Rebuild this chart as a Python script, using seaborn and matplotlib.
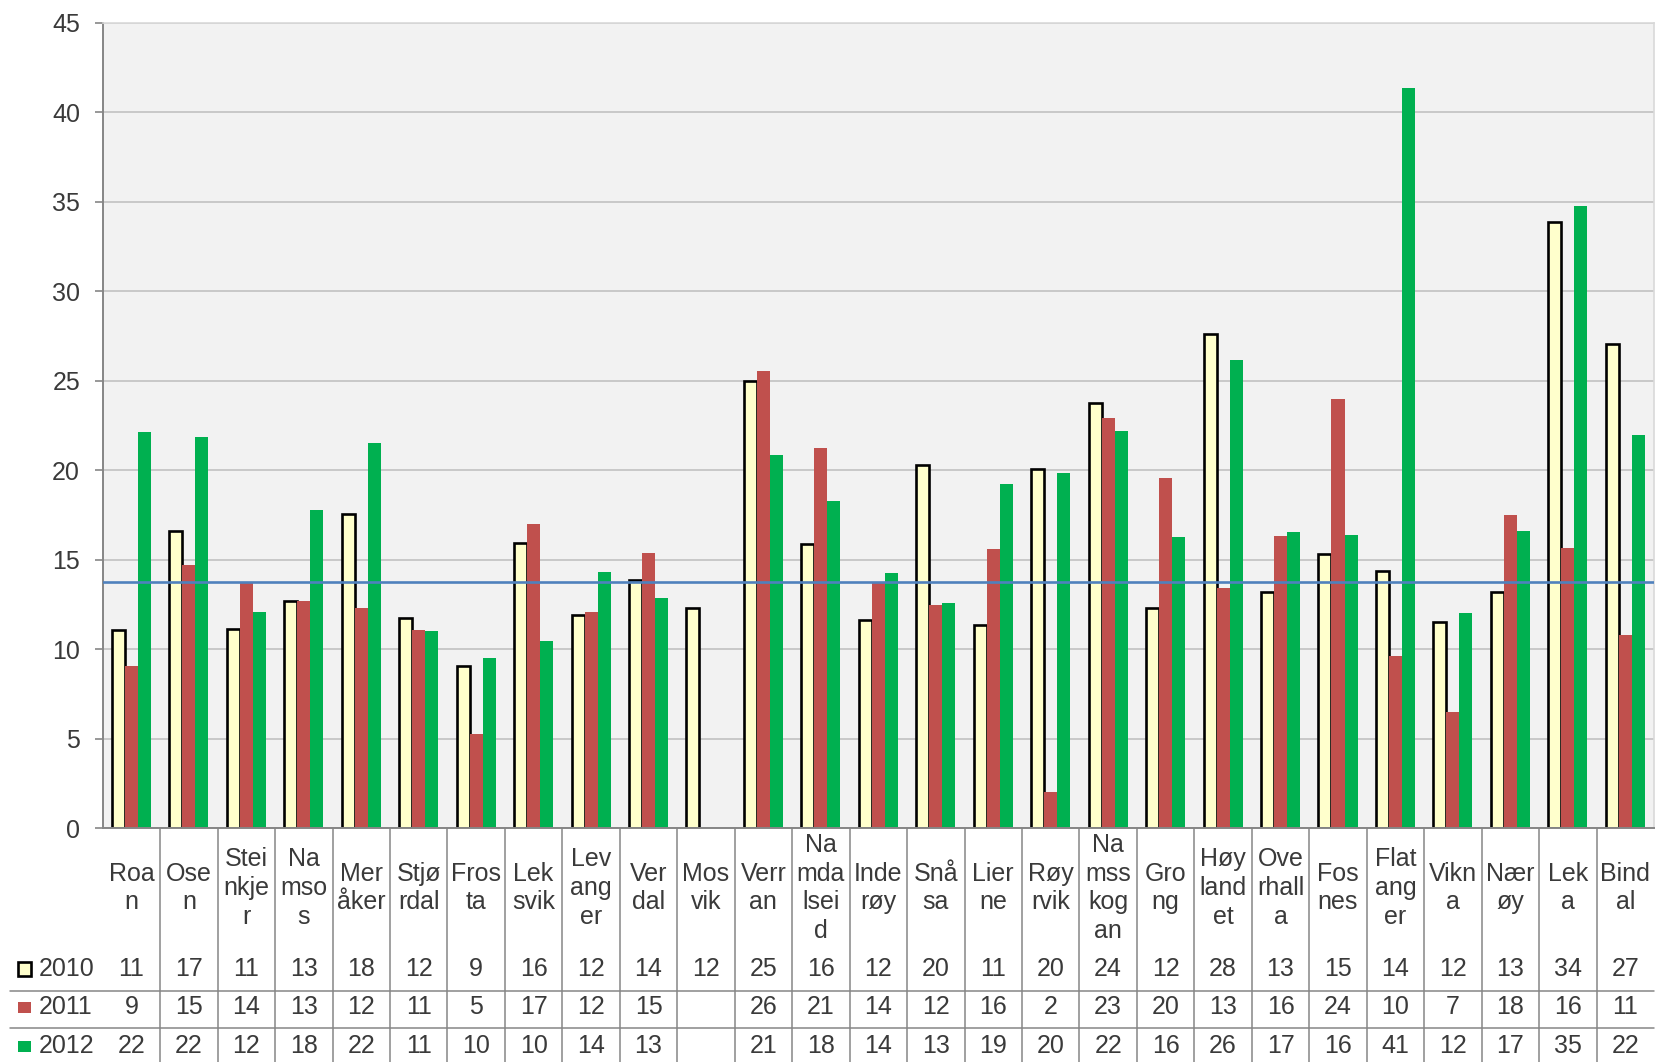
import matplotlib
matplotlib.use("Agg")
import matplotlib.pyplot as plt
import matplotlib.transforms as mtransforms
from matplotlib.lines import Line2D
from matplotlib.patches import Rectangle
import numpy as np
import pandas as pd
import seaborn as sns

kommuner = ["Roan", "Osen", "Steinkjer", "Namsos", "Meråker", "Stjørdal", "Frosta",
            "Leksvik", "Levanger", "Verdal", "Mosvik", "Verran", "Namdalseid", "Inderøy",
            "Snåsa", "Lierne", "Røyrvik", "Namsskogan", "Grong", "Høylandet", "Overhalla",
            "Fosnes", "Flatanger", "Vikna", "Nærøy", "Leka", "Bindal"]
# category labels as they are wrapped in the data table
etiketter = ["Roa\nn", "Ose\nn", "Stei\nnkje\nr", "Na\nmso\ns", "Mer\nåker", "Stjø\nrdal",
             "Fros\nta", "Lek\nsvik", "Lev\nang\ner", "Ver\ndal", "Mos\nvik", "Verr\nan",
             "Na\nmda\nlsei\nd", "Inde\nrøy", "Snå\nsa", "Lier\nne", "Røy\nrvik",
             "Na\nmss\nkog\nan", "Gro\nng", "Høy\nland\net", "Ove\nrhall\na", "Fos\nnes",
             "Flat\nang\ner", "Vikn\na", "Nær\nøy", "Lek\na", "Bind\nal"]
years = ["2010", "2011", "2012"]

v2010 = [11.05, 16.6, 11.12, 12.66, 17.57, 11.76, 9.08, 15.94, 11.91, 13.86, 12.3, 24.98,
         15.86, 11.65, 20.3, 11.33, 20.04, 23.76, 12.3, 27.63, 13.19, 15.29, 14.37, 11.54,
         13.19, 33.88, 27.04]
v2011 = [9.08, 14.72, 13.75, 12.7, 12.28, 11.09, 5.28, 16.99, 12.06, 15.37, np.nan, 25.54,
         21.25, 13.72, 12.45, 15.58, 2.0, 22.94, 19.55, 13.4, 16.33, 23.96, 9.61, 6.51,
         17.52, 15.65, 10.78]
v2012 = [22.15, 21.84, 12.06, 17.79, 21.52, 10.99, 9.52, 10.43, 14.31, 12.85, np.nan, 20.82,
         18.26, 14.27, 12.55, 19.21, 19.85, 22.21, 16.24, 26.14, 16.54, 16.38, 41.38, 12.0,
         16.62, 34.77, 21.98]
snitt = 13.76

farger = {"2010": "#FFFFCC", "2011": "#C0504D", "2012": "#00B050"}

df = pd.DataFrame({"Kommune": kommuner, "2010": v2010, "2011": v2011, "2012": v2012})
long_df = df.melt(id_vars="Kommune", var_name="År", value_name="Verdi")

sns.set_theme(style="white")
plt.rcParams["font.family"] = ["Liberation Sans", "DejaVu Sans"]
tekst = "#3A3A3A"
linjegraa = "#868686"

fig = plt.figure(figsize=(16.56, 10.62), dpi=100)
ax = fig.add_axes([0.062, 0.2203, 0.9368, 0.7583])
ax.set_facecolor("#F2F2F2")

sns.barplot(data=long_df, x="Kommune", y="Verdi", hue="År", order=kommuner,
            hue_order=years, palette=farger, width=0.68, saturation=1,
            errorbar=None, legend=False, linewidth=0, ax=ax)
for p in ax.containers[0]:
    p.set_edgecolor("black")
    p.set_linewidth(1.9)

ax.axhline(snitt, color="#4F81BD", lw=1.9, zorder=5)

ax.set_xlim(-0.5, len(kommuner) - 0.5)
ax.set_ylim(0, 45)
ax.set_yticks(range(0, 46, 5))
ax.set_xticks([])
ax.set_xlabel("")
ax.set_ylabel("")
ax.yaxis.grid(True, color="#C8C8C8", lw=1.4)
ax.set_axisbelow(True)
ax.tick_params(axis="y", length=5.8, width=1.2, color=linjegraa, labelsize=18,
               labelcolor=tekst, pad=10.5, left=True)
for side in ["left", "bottom"]:
    ax.spines[side].set_color(linjegraa)
    ax.spines[side].set_linewidth(1.4)
for side in ["top", "right"]:
    ax.spines[side].set_color("#D9D9D9")
    ax.spines[side].set_linewidth(1.2)

# data table under the plot
trans = mtransforms.blended_transform_factory(ax.transData, ax.transAxes)
for i, lab in enumerate(etiketter):
    ax.text(i, -0.0745, lab, transform=trans, ha="center", va="center", fontsize=18,
            color=tekst, linespacing=1.25, clip_on=False)

rad_y = [-0.1752, -0.2224, -0.2708]
for yr, ypos in zip(years, rad_y):
    for i, v in enumerate(df[yr]):
        if not np.isnan(v):
            ax.text(i, ypos, str(int(np.floor(v + 0.5))), transform=trans, ha="center",
                    va="center", fontsize=18, color=tekst, clip_on=False)
    ax.text(-0.0415, ypos, yr, transform=ax.transAxes, ha="left", va="center",
            fontsize=18, color=tekst, clip_on=False)

# legend keys in the table
ax.add_patch(Rectangle((-0.0548, rad_y[0] - 0.0085), 0.0088, 0.017, transform=ax.transAxes,
                       facecolor=farger["2010"], edgecolor="black", lw=1.9, clip_on=False))
for yr, ypos in zip(years[1:], rad_y[1:]):
    ax.add_patch(Rectangle((-0.0548, ypos - 0.0068), 0.0084, 0.0136, transform=ax.transAxes,
                           facecolor=farger[yr], edgecolor="none", clip_on=False))

for ypos in [-0.2025, -0.2484]:
    ax.add_line(Line2D([-0.0598, 1.0], [ypos, ypos], transform=ax.transAxes,
                       color=linjegraa, lw=1.1, clip_on=False))
for k in range(len(kommuner) - 1):
    ax.add_line(Line2D([k + 0.5, k + 0.5], [0, -0.2907], transform=trans,
                       color=linjegraa, lw=1.1, clip_on=False))

fig.savefig("out.png", dpi=100)
